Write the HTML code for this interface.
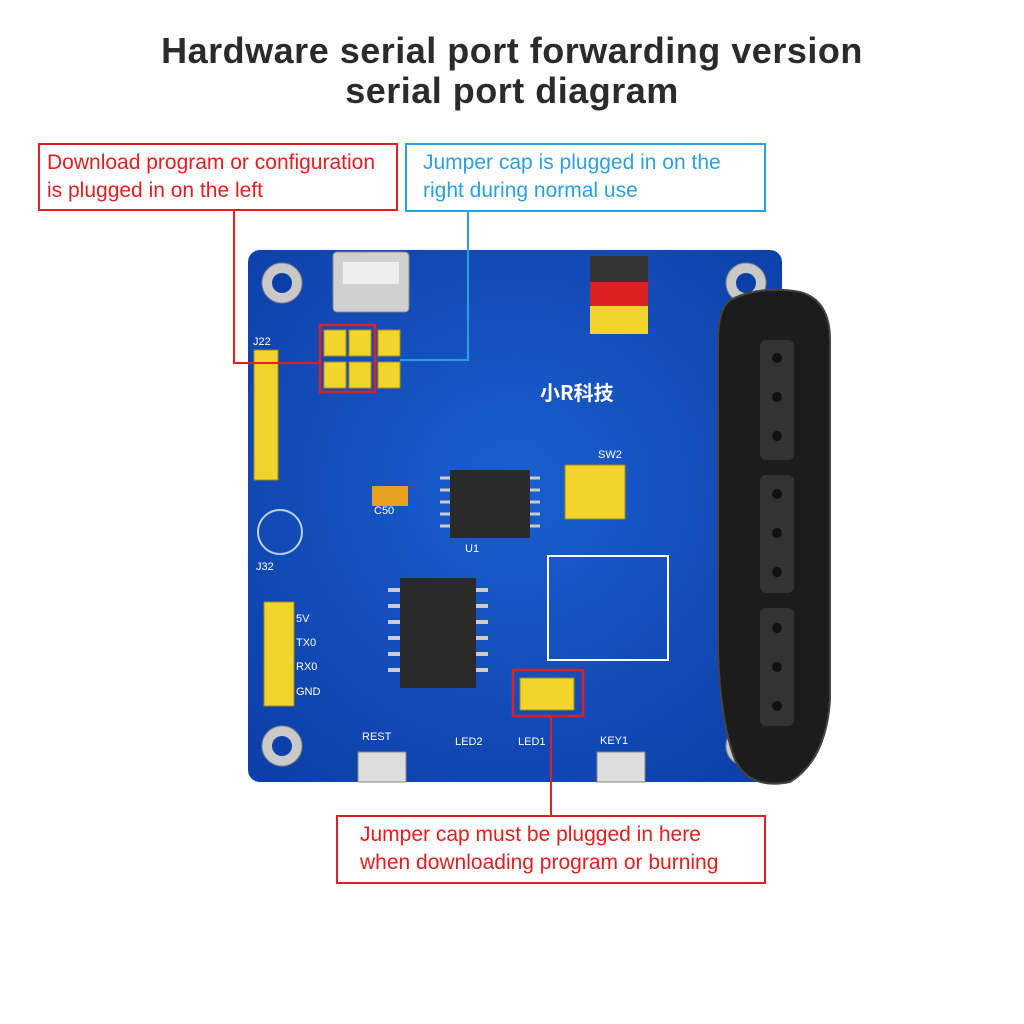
<!DOCTYPE html>
<html><head><meta charset="utf-8"><style>
body{margin:0;width:1024px;height:1024px;background:#fff;position:relative;overflow:hidden;font-family:"Liberation Sans","Noto Sans CJK SC",sans-serif}
.t{position:absolute;left:0;width:1024px;text-align:center;font-weight:bold;font-size:36px;color:#2b2b2b;letter-spacing:0.5px}
.box{position:absolute;font-size:21px;line-height:28px;padding:4px 7px;box-sizing:border-box;background:#fff;white-space:nowrap}
</style></head><body>
<div class="t" style="top:30px">Hardware serial port forwarding version</div>
<div class="t" style="top:70px">serial port diagram</div>

<svg width="1024" height="1024" style="position:absolute;left:0;top:0">
<defs><radialGradient id="g" cx="50%" cy="45%" r="70%"><stop offset="0" stop-color="#1a5fd0"/><stop offset="1" stop-color="#0d3fa8"/></radialGradient></defs>
<rect x="248" y="250" width="534" height="532" rx="12" fill="url(#g)"/>
<g fill="#c9c9c9" stroke="#888"><circle cx="282" cy="283" r="20"/><circle cx="282" cy="746" r="20"/><circle cx="746" cy="283" r="20"/><circle cx="746" cy="746" r="20"/></g>
<g fill="#0d3fa8"><circle cx="282" cy="283" r="10"/><circle cx="282" cy="746" r="10"/><circle cx="746" cy="283" r="10"/><circle cx="746" cy="746" r="10"/></g>
<rect x="333" y="252" width="76" height="60" rx="4" fill="#d0d0d0" stroke="#888"/>
<rect x="343" y="262" width="56" height="22" fill="#eee"/>
<g fill="#f2d52b" stroke="#b09010"><rect x="324" y="330" width="22" height="26"/><rect x="349" y="330" width="22" height="26"/><rect x="378" y="330" width="22" height="26"/><rect x="324" y="362" width="22" height="26"/><rect x="349" y="362" width="22" height="26"/><rect x="378" y="362" width="22" height="26"/></g>
<rect x="320" y="325" width="55" height="67" fill="none" stroke="#e02020" stroke-width="2.5"/>
<g fill="#f2d52b" stroke="#a08a10"><rect x="254" y="350" width="24" height="130"/></g>
<rect x="590" y="256" width="58" height="26" fill="#333"/>
<rect x="590" y="282" width="58" height="24" fill="#d82020"/>
<rect x="590" y="306" width="58" height="28" fill="#f2d52b"/>
<rect x="450" y="470" width="80" height="68" fill="#2a2a2a"/>
<g stroke="#ccc" stroke-width="3"><line x1="440" y1="478" x2="450" y2="478"/><line x1="440" y1="490" x2="450" y2="490"/><line x1="440" y1="502" x2="450" y2="502"/><line x1="440" y1="514" x2="450" y2="514"/><line x1="440" y1="526" x2="450" y2="526"/><line x1="530" y1="478" x2="540" y2="478"/><line x1="530" y1="490" x2="540" y2="490"/><line x1="530" y1="502" x2="540" y2="502"/><line x1="530" y1="514" x2="540" y2="514"/><line x1="530" y1="526" x2="540" y2="526"/></g>
<rect x="400" y="578" width="76" height="110" fill="#2a2a2a"/>
<g stroke="#ccc" stroke-width="4"><line x1="388" y1="590" x2="400" y2="590"/><line x1="388" y1="606" x2="400" y2="606"/><line x1="388" y1="622" x2="400" y2="622"/><line x1="388" y1="638" x2="400" y2="638"/><line x1="388" y1="654" x2="400" y2="654"/><line x1="388" y1="670" x2="400" y2="670"/><line x1="476" y1="590" x2="488" y2="590"/><line x1="476" y1="606" x2="488" y2="606"/><line x1="476" y1="622" x2="488" y2="622"/><line x1="476" y1="638" x2="488" y2="638"/><line x1="476" y1="654" x2="488" y2="654"/><line x1="476" y1="670" x2="488" y2="670"/></g>
<rect x="565" y="465" width="60" height="54" fill="#f2d52b" stroke="#a08a10"/>
<rect x="372" y="486" width="36" height="20" fill="#e8a020"/>
<circle cx="280" cy="532" r="22" fill="none" stroke="#bcd" stroke-width="2"/>
<rect x="548" y="556" width="120" height="104" fill="none" stroke="#fff" stroke-width="2"/>
<rect x="264" y="602" width="30" height="104" fill="#f2d52b" stroke="#a08a10"/>
<rect x="520" y="678" width="54" height="32" fill="#f2d52b" stroke="#a08a10"/>
<rect x="513" y="670" width="70" height="46" fill="none" stroke="#e02020" stroke-width="2.5"/>
<rect x="358" y="752" width="48" height="30" fill="#ddd" stroke="#888"/>
<rect x="597" y="752" width="48" height="30" fill="#ddd" stroke="#888"/>
<path d="M730 300 Q760 285 800 292 Q830 300 830 340 L830 700 Q826 760 790 782 Q750 790 735 760 Q720 720 718 650 L718 340 Q718 310 730 300 Z" fill="#1c1c1c" stroke="#444" stroke-width="2"/>
<rect x="760" y="340" width="34" height="120" rx="6" fill="#333"/>
<rect x="760" y="475" width="34" height="118" rx="6" fill="#333"/>
<rect x="760" y="608" width="34" height="118" rx="6" fill="#333"/>
<g fill="#111"><circle cx="777" cy="358" r="5"/><circle cx="777" cy="397" r="5"/><circle cx="777" cy="436" r="5"/><circle cx="777" cy="494" r="5"/><circle cx="777" cy="533" r="5"/><circle cx="777" cy="572" r="5"/><circle cx="777" cy="628" r="5"/><circle cx="777" cy="667" r="5"/><circle cx="777" cy="706" r="5"/></g>
<polyline points="234,211 234,363 320,363" fill="none" stroke="#e02020" stroke-width="2"/>
<polyline points="468,212 468,360 400,360" fill="none" stroke="#2aa0e0" stroke-width="2"/>
<line x1="551" y1="716" x2="551" y2="815" stroke="#e02020" stroke-width="2"/>
<g fill="#fff" font-size="11" font-family="Liberation Sans,sans-serif">
<text x="253" y="345">J22</text><text x="296" y="622">5V</text><text x="296" y="646">TX0</text><text x="296" y="670">RX0</text><text x="296" y="695">GND</text>
<text x="362" y="740">REST</text><text x="600" y="744">KEY1</text><text x="455" y="745">LED2</text><text x="518" y="745">LED1</text>
<text x="598" y="458">SW2</text><text x="374" y="514">C50</text><text x="465" y="552">U1</text><text x="256" y="570">J32</text>
</g>
<text x="540" y="400" fill="#fff" font-size="20" font-weight="bold" font-family="Noto Sans CJK SC,sans-serif">小R科技</text>
</svg>

<div class="box" style="left:38px;top:143px;width:360px;height:68px;border:2px solid #e02020;color:#e02020">Download program or configuration<br>is plugged in on the left</div>
<div class="box" style="left:405px;top:143px;width:361px;height:69px;border:2px solid #2aa0e0;color:#2aa0e0;padding-left:16px">Jumper cap is plugged in on the<br>right during normal use</div>
<div class="box" style="left:336px;top:815px;width:430px;height:69px;border:2px solid #e02020;color:#e02020;padding-left:22px">Jumper cap must be plugged in here<br>when downloading program or burning</div>
</body></html>
